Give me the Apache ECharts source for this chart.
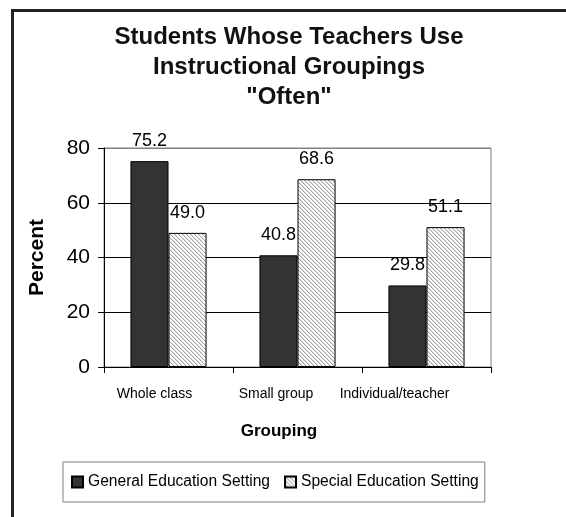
<!DOCTYPE html>
<html>
<head>
<meta charset="utf-8">
<script src="https://cdn.jsdelivr.net/npm/echarts@6/dist/echarts.min.js"></script>
<style>
  html, body { margin: 0; padding: 0; background: #fff; }
  #frame {
    position: absolute; left: 11px; top: 9px; width: 600px; height: 600px;
    border-top: 3px solid #222; border-left: 3px solid #222;
  }
  #main { position: absolute; left: 0; top: 0; width: 566px; height: 517px; }
</style>
</head>
<body>
<div id="frame"></div>
<div id="main"></div>
<script>
const categories = ['Whole class', 'Small group', 'Individual/teacher'];
const generalEd = [75.2, 40.8, 29.8];
const specialEd = [49.0, 68.6, 51.1];
const yTicks = [0, 20, 40, 60, 80];

// diagonal hatch used by the special education bars
function hatch() {
  const c = document.createElement('canvas');
  c.width = 4; c.height = 4;
  const ctx = c.getContext('2d');
  ctx.fillStyle = '#fff';
  ctx.fillRect(0, 0, 4, 4);
  for (let i = 0; i < 4; i++) {
    ctx.fillStyle = '#a4a4a4';
    ctx.fillRect(i, i, 1, 1);
    ctx.fillStyle = '#dedede';
    ctx.fillRect((i + 1) % 4, i, 1, 1);
  }
  return { image: c, repeat: 'repeat' };
}

// small left shifts, the labels in the source sit off-centre
const labelShift = [28, 43, 64];

const font = 'Liberation Sans, Arial, sans-serif';

const option = {
  animation: false,
  textStyle: { fontFamily: font, color: '#000' },
  title: {
    text: 'Students Whose Teachers Use\nInstructional Groupings\n"Often"',
    left: 284,
    textAlign: 'center',
    top: 17,
    textStyle: { fontSize: 24, fontWeight: 'bold', lineHeight: 30, color: '#111', fontFamily: font },
  },
  grid: {
    left: 104, right: 75, top: 148, bottom: 150,
    show: true, borderColor: '#808080', borderWidth: 1,
  },
  legend: {
    left: 63, top: 462,
    padding: [11, 6, 11, 8],
    borderColor: '#808080', borderWidth: 1,
    icon: 'rect', itemWidth: 11, itemHeight: 11, itemGap: 14,
    textStyle: { fontSize: 15.6, color: '#000', fontFamily: font, lineHeight: 18 },
    data: ['General Education Setting', 'Special Education Setting'],
  },
  xAxis: {
    type: 'category',
    data: categories,
    name: 'Grouping',
    nameLocation: 'middle',
    nameGap: 56,
    nameTextStyle: { fontSize: 17, fontWeight: 'bold', color: '#000', padding: [0, 37, 0, 0] },
    axisLine: { lineStyle: { color: '#000', width: 1 } },
    axisTick: { show: true, length: 6, lineStyle: { color: '#000' } },
    axisLabel: {
      interval: 0,
      fontSize: 14, color: '#000', margin: 20,
      formatter: (v, i) => '{s' + i + '|' + v + '}',
      rich: {
        s0: { fontSize: 14, padding: [0, labelShift[0], 0, 0] },
        s1: { fontSize: 14, padding: [0, labelShift[1], 0, 0] },
        s2: { fontSize: 14, padding: [0, labelShift[2], 0, 0] },
      },
    },
  },
  yAxis: {
    type: 'value',
    min: yTicks[0], max: yTicks[yTicks.length - 1], interval: yTicks[1] - yTicks[0],
    name: 'Percent',
    nameLocation: 'middle',
    nameGap: 56,
    nameTextStyle: { fontSize: 21, fontWeight: 'bold', color: '#000' },
    axisLine: { show: true, lineStyle: { color: '#000', width: 1 } },
    axisTick: { show: true, length: 6, lineStyle: { color: '#000' } },
    axisLabel: { fontSize: 21, color: '#000', margin: 14 },
    splitLine: { lineStyle: { color: ['#000', '#000', '#000', '#000', '#808080'], width: 1 } },
  },
  series: [
    {
      name: 'General Education Setting',
      type: 'bar',
      data: generalEd,
      barGap: '0%',
      barCategoryGap: '41%',
      itemStyle: { color: '#333333', borderColor: '#000', borderWidth: 1 },
      label: {
        show: true, position: 'top', distance: 11,
        fontSize: 18, color: '#000', fontFamily: font,
        formatter: (p) => p.value.toFixed(1),
      },
    },
    {
      name: 'Special Education Setting',
      type: 'bar',
      data: specialEd,
      barGap: '0%',
      barCategoryGap: '41%',
      itemStyle: { color: hatch(), borderColor: '#000', borderWidth: 1 },
      label: {
        show: true, position: 'top', distance: 11,
        fontSize: 18, color: '#000', fontFamily: font,
        formatter: (p) => p.value.toFixed(1),
      },
    },
  ],
};

const chart = echarts.init(document.getElementById('main'));
chart.setOption(option);
</script>
</body>
</html>
